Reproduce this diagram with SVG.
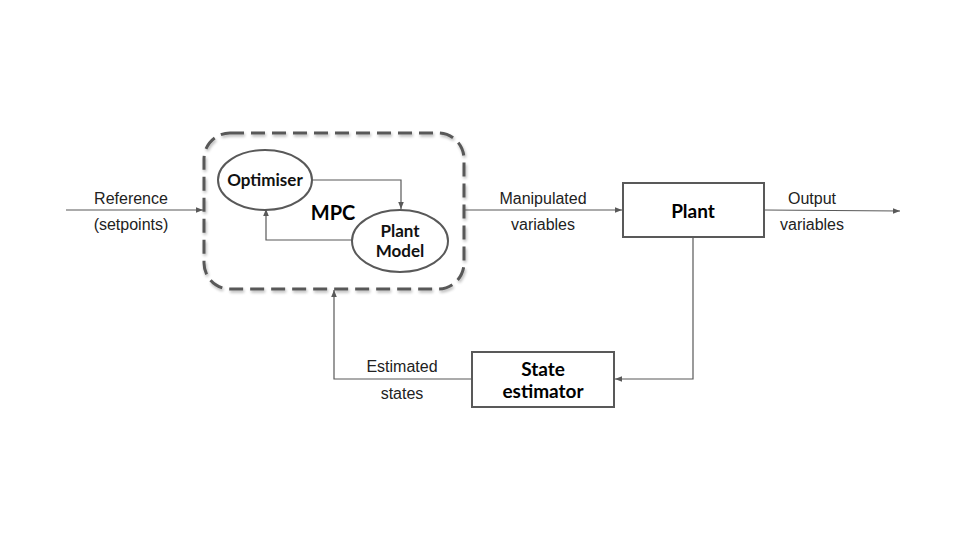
<svg xmlns="http://www.w3.org/2000/svg" width="960" height="540" viewBox="0 0 960 540">
<defs>
<marker id="ah" viewBox="0 0 10 10" refX="10" refY="5" markerWidth="7" markerHeight="7" orient="auto" markerUnits="userSpaceOnUse">
<path d="M0,1 L10,5 L0,9 z" fill="#595959"/>
</marker>
<filter id="sh" x="-10%" y="-10%" width="120%" height="120%">
<feGaussianBlur in="SourceAlpha" stdDeviation="1.5"/>
<feOffset dx="1" dy="2" result="b"/>
<feComponentTransfer><feFuncA type="linear" slope="0.3"/></feComponentTransfer>
<feMerge><feMergeNode/><feMergeNode in="SourceGraphic"/></feMerge>
</filter>
</defs>
<style>
.ln{fill:none;stroke:#595959;stroke-width:1.2}
.bx{fill:#fff;stroke:#595959;stroke-width:2}
.lb{font-family:"Liberation Sans",Arial,sans-serif;font-size:16px;fill:#222;text-anchor:middle}
.bt{font-family:Lato,"Liberation Sans",sans-serif;font-weight:bold;font-size:19px;fill:#000;text-anchor:middle}
.nt{font-family:Lato,"Liberation Sans",sans-serif;font-weight:bold;font-size:17px;fill:#111;text-anchor:middle}
</style>
<rect width="960" height="540" fill="#fff"/>
<g id="mpc">
<rect x="204" y="133" width="260" height="156" rx="26" ry="26" fill="none" stroke="#595959" stroke-width="3" stroke-dasharray="14,7" filter="url(#sh)"/>
<text class="bt" x="333" y="220" style="font-size:20px">MPC</text>
</g>
<g id="optimiser">
<ellipse cx="265" cy="180" rx="47" ry="30" class="bx"/>
<text class="nt" x="265" y="186">Optimiser</text>
</g>
<g id="plant-model">
<ellipse cx="400" cy="241" rx="48" ry="31" class="bx"/>
<text class="nt" x="400" y="237">Plant</text>
<text class="nt" x="400" y="257">Model</text>
</g>
<g id="plant">
<rect x="623" y="183" width="141" height="54" class="bx"/>
<text class="bt" x="693" y="218">Plant</text>
</g>
<g id="state-estimator">
<rect x="472" y="352" width="142" height="55" class="bx"/>
<text class="bt" x="543" y="376">State</text>
<text class="bt" x="543" y="398">estimator</text>
</g>
<g id="connectors">
<path class="ln" d="M312,180 H401 V209" marker-end="url(#ah)"/>
<path class="ln" d="M352,240 H266 V209" marker-end="url(#ah)"/>
<path class="ln" d="M66,210 H203" marker-end="url(#ah)"/>
<path class="ln" d="M465,210 H622" marker-end="url(#ah)"/>
<path class="ln" d="M764,210 L900,211" marker-end="url(#ah)"/>
<path class="ln" d="M693,237 V379 H615" marker-end="url(#ah)"/>
<path class="ln" d="M472,379 H334 V290" marker-end="url(#ah)"/>
</g>
<g id="labels">
<text class="lb" x="131" y="204">Reference</text>
<text class="lb" x="131" y="230">(setpoints)</text>
<text class="lb" x="543" y="204">Manipulated</text>
<text class="lb" x="543" y="230">variables</text>
<text class="lb" x="812" y="204">Output</text>
<text class="lb" x="812" y="230">variables</text>
<text class="lb" x="402" y="372">Estimated</text>
<text class="lb" x="402" y="399">states</text>
</g>
</svg>
